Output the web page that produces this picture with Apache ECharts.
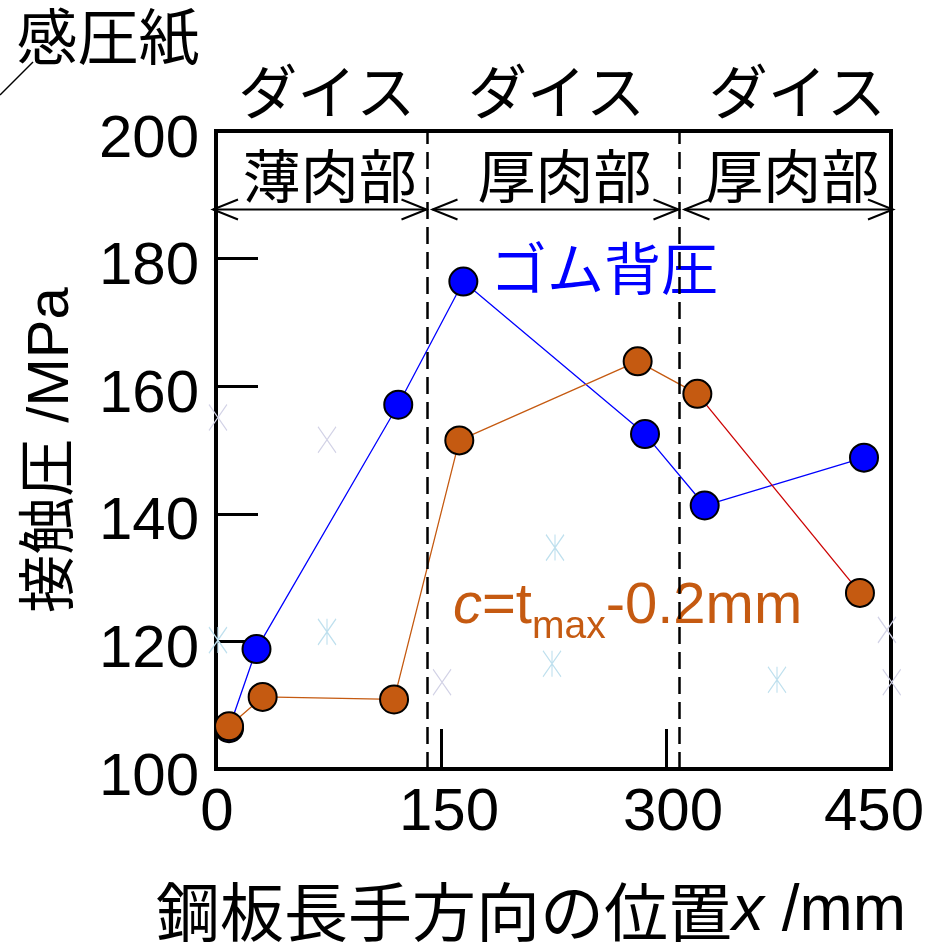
<!DOCTYPE html>
<html><head><meta charset="utf-8">
<script src="https://cdn.jsdelivr.net/npm/echarts@6/dist/echarts.min.js"></script>
<style>html,body{margin:0;padding:0;background:#fff}#c{width:941px;height:942px}</style>
</head><body><div id="c"></div>
<script>
// ---- data ----
const xTicks = [0, 150, 300, 450];
const yTicks = [100, 120, 140, 160, 180, 200];
const rubberX = [8.7, 27, 121.5, 164.9, 286, 325.8, 432];
const rubberY = [106.4, 118.8, 157.1, 176.4, 152.5, 141.3, 148.8];
const clearX = [8.7, 31.1, 118.7, 162.2, 281.1, 320.9, 429.3];
const clearY = [106.7, 111.3, 110.9, 151.5, 163.9, 158.8, 127.6];
const paperCrossX = [1.3, 74, 150.7, 447.3, 450.5];
const paperCrossY = [155.1, 151.6, 113.6, 121.8, 113.6];
const paperStarX = [1.3, 74, 226, 224, 374];
const paperStarY = [120.2, 121.5, 134.7, 116.5, 114];
const boundaries = [0, 141, 309, 450];
const dieLabels = ['ダイス', 'ダイス', 'ダイス'];
const regionLabels = ['薄肉部', '厚肉部', '厚肉部'];
const arrowLevel = 187.7;
const rubberLabel = 'ゴム背圧';
const clearanceLabel = ['c', '=t', 'max', '-0.2mm'];
const yTitle = '接触圧 /MPa';
const xTitle = ['鋼板長手方向の位置', 'x', ' /mm'];
const cornerLabel = '感圧紙';

// ---- styles ----
const LAT = "'Liberation Sans', Arial, 'Noto Sans CJK JP', sans-serif";
const CJK = "'Noto Sans CJK JP', 'Liberation Sans', sans-serif";
const BLUE = '#0000ff', ORANGE = '#c55a11', RED = '#cc0000';

const zip = (a, b) => a.map((v, i) => [v, b[i]]);
const chart = echarts.init(document.getElementById('c'), null, {renderer: 'canvas'});

const xPad = {0: [0, 0, 0, 2], 150: [0, 0, 0, 16], 300: [0, 0, 0, 14], 450: [0, 34, 0, 0]};
const xRich = {};
xTicks.forEach(t => { xRich['t' + t] = {fontSize: 60, fontFamily: LAT, color: '#000', padding: xPad[t]}; });

const crossPath = 'path://M0,0L18,26M18,0L0,26';
const starPath = 'path://M0,0L18,26M18,0L0,26M9,0L9,26';

chart.setOption({
  animation: false,
  grid: {left: 216, right: 50, top: 131, bottom: 173, show: true, borderColor: '#000', borderWidth: 4, backgroundColor: 'transparent'},
  xAxis: {
    type: 'value', min: 0, max: 450, interval: 150,
    axisLine: {show: true, lineStyle: {color: '#000', width: 4}},
    axisTick: {show: true, inside: true, length: 40, lineStyle: {color: '#000', width: 3}},
    splitLine: {show: false},
    axisLabel: {margin: 14, formatter: v => '{t' + v + '|' + v + '}', rich: xRich}
  },
  yAxis: {
    type: 'value', min: 100, max: 200, interval: 20,
    axisLine: {show: true, lineStyle: {color: '#000', width: 4}},
    axisTick: {show: true, inside: true, length: 42, lineStyle: {color: '#000', width: 3}},
    splitLine: {show: false},
    axisLabel: {margin: 17, formatter: v => '{a|' + v + '}',
      rich: {a: {fontSize: 60, fontFamily: LAT, color: '#000', padding: [18, 0, 0, 0]}}}
  },
  series: [
    {type: 'scatter', data: zip(paperCrossX, paperCrossY), symbol: crossPath, symbolSize: [18, 26], clip: false, silent: true,
     itemStyle: {color: 'rgba(0,0,0,0)', borderColor: '#d2d2e6', borderWidth: 1.3, opacity: 1}, z: 1},
    {type: 'scatter', data: zip(paperStarX, paperStarY), symbol: starPath, symbolSize: [18, 26], clip: false, silent: true,
     itemStyle: {color: 'rgba(0,0,0,0)', borderColor: '#bfe0ee', borderWidth: 1.3, opacity: 1}, z: 1},
    {type: 'line', data: zip(rubberX, rubberY), showSymbol: false, symbol: 'none', lineStyle: {color: BLUE, width: 1.3}, z: 3,
     markLine: {silent: true, symbol: 'none', label: {show: false},
       lineStyle: {color: '#000', width: 2.5, type: [17, 8]},
       data: boundaries.slice(1, -1).map(b => ({xAxis: b}))}},
    {type: 'line', data: zip(clearX, clearY).slice(0, 6), showSymbol: false, symbol: 'none', lineStyle: {color: ORANGE, width: 1.3}, z: 3},
    {type: 'line', data: zip(clearX, clearY).slice(5), showSymbol: false, symbol: 'none', lineStyle: {color: RED, width: 1.3}, z: 3},
    {type: 'scatter', data: zip(rubberX, rubberY), symbol: 'circle', symbolSize: 28,
     itemStyle: {color: BLUE, borderColor: '#000', borderWidth: 2, opacity: 1}, z: 5},
    {type: 'scatter', data: zip(clearX, clearY), symbol: 'circle', symbolSize: 28,
     itemStyle: {color: ORANGE, borderColor: '#000', borderWidth: 2, opacity: 1}, z: 6}
  ]
});

// ---- annotations (positioned from the axes) ----
const px = (x, y) => chart.convertToPixel({gridIndex: 0}, [x, y]);
const bpx = boundaries.map(b => px(b, arrowLevel)[0]);
const ay = px(0, arrowLevel)[1];
const g = [];
const dieOff = [5, 3, 12];
const regOff = [8, 11, 7];
for (let i = 0; i < 3; i++) {
  const mid = (bpx[i] + bpx[i + 1]) / 2;
  g.push({type: 'text', x: mid + dieOff[i], y: 92, style: {text: dieLabels[i], fontSize: 59, fontFamily: CJK, fill: '#000', align: 'center', verticalAlign: 'middle'}});
  g.push({type: 'text', x: mid + regOff[i], y: 176, style: {text: regionLabels[i], fontSize: 58, fontFamily: CJK, fill: '#000', align: 'center', verticalAlign: 'middle'}});
  const x1 = bpx[i] + (i === 0 ? -3 : 5);
  const x2 = bpx[i + 1] + (i === 2 ? 2 : -1);
  const ls = {stroke: '#000', lineWidth: 2, fill: null};
  g.push({type: 'line', shape: {x1: x1, y1: ay, x2: x2, y2: ay}, style: ls});
  g.push({type: 'polyline', shape: {points: [[x1 + 25, ay - 10], [x1, ay], [x1 + 25, ay + 10]]}, style: ls});
  g.push({type: 'polyline', shape: {points: [[x2 - 25, ay - 10], [x2, ay], [x2 - 25, ay + 10]]}, style: ls});
}
g.push({type: 'text', x: 108, y: 37, style: {text: cornerLabel, fontSize: 61, fontFamily: CJK, fill: '#000', align: 'center', verticalAlign: 'middle'}});
g.push({type: 'line', shape: {x1: 0, y1: 95, x2: 33, y2: 62}, style: {stroke: '#000', lineWidth: 1.5}});
g.push({type: 'text', x: 490, y: 268, style: {text: rubberLabel, fontSize: 57, fontFamily: CJK, fill: BLUE, align: 'left', verticalAlign: 'middle'}});
g.push({type: 'text', x: 453, y: 607, style: {
  text: '{i|' + clearanceLabel[0] + '}{n|' + clearanceLabel[1] + '}{s|' + clearanceLabel[2] + '}{n|' + clearanceLabel[3] + '}',
  align: 'left', verticalAlign: 'middle',
  rich: {
    i: {fontSize: 58, fontStyle: 'italic', fontFamily: LAT, fill: ORANGE, lineHeight: 80},
    n: {fontSize: 58, fontFamily: LAT, fill: ORANGE, lineHeight: 80},
    s: {fontSize: 39, fontFamily: LAT, fill: ORANGE, lineHeight: 40, verticalAlign: 'bottom'}
  }}});
g.push({type: 'text', x: 52, y: 450, rotation: Math.PI / 2, style: {text: yTitle, fontSize: 58, fontFamily: LAT, fill: '#000', align: 'center', verticalAlign: 'middle'}});
g.push({type: 'text', x: 531, y: 912, style: {
  text: '{c|' + xTitle[0] + '}{i|' + xTitle[1] + '}{n|' + xTitle[2] + '}',
  align: 'center', verticalAlign: 'middle',
  rich: {
    c: {fontSize: 64, fontFamily: CJK, fill: '#000'},
    i: {fontSize: 64, fontStyle: 'italic', fontFamily: LAT, fill: '#000'},
    n: {fontSize: 64, fontFamily: LAT, fill: '#000'}
  }}});
chart.setOption({graphic: g});
</script>
</body></html>
